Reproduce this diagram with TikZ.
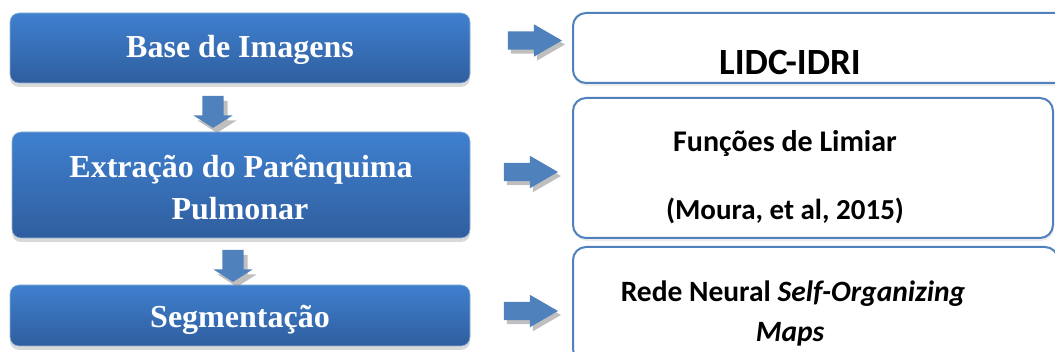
\documentclass[tikz,border=0pt]{standalone}
\usepackage{fontspec}
\newfontfamily\timesf{Liberation Serif}
\newfontfamily\calibf{Carlito}
\usetikzlibrary{shapes.arrows,shadows}
\definecolor{boxtop}{HTML}{3F80CF}
\definecolor{boxbot}{HTML}{2F5E9E}
\definecolor{boxline}{HTML}{4F81BD}
\tikzset{
	leftbox/.style={rectangle, rounded corners=9pt, top color=boxtop, bottom color=boxbot, draw=boxline!60, line width=0.6pt, drop shadow={shadow xshift=0pt, shadow yshift=-4pt, opacity=0.3}},
	rightbox/.style={rectangle, rounded corners=13pt, fill=white, draw=boxline, line width=2pt, drop shadow={shadow xshift=1pt, shadow yshift=-3pt, opacity=0.15}},
	leftlbl/.style={anchor=base, text=white, font=\timesf\bfseries\fontsize{32}{38}\selectfont},
	rightlbl/.style={anchor=base, text=black, font=\calibf\bfseries\fontsize{30}{36}\selectfont},
	rarrow/.style={single arrow, fill=boxline, inner sep=9pt, single arrow head extend=7pt, minimum height=54pt, single arrow tip angle=60, drop shadow={shadow xshift=3pt, shadow yshift=-4pt, opacity=0.5}},
	darrow/.style={single arrow, shape border rotate=270, fill=boxline, inner sep=10.5pt, single arrow head extend=9pt, minimum height=32pt, single arrow tip angle=115, drop shadow={shadow xshift=4pt, shadow yshift=-5pt, opacity=0.5}}
}
\begin{document}
\begin{tikzpicture}[x=1pt, y=-1pt]
	\path[use as bounding box, clip] (0,0) rectangle (1055,352);
	% steps on the left
	\node[leftbox, minimum width=460pt, minimum height=70pt] (base) at (240,48) {};
	\node[leftbox, minimum width=458pt, minimum height=106pt] (extr) at (241,185) {};
	\node[leftbox, minimum width=460pt, minimum height=61pt] (segm) at (240,315.5) {};
	\node[leftlbl] (baset) at (240,58) {Base de Imagens};
	\node[leftlbl] (extrt) at (241,178) {Extração do Parênquima};
	\node[leftlbl] (extrb) at (240,220) {Pulmonar};
	\node[leftlbl] (segmt) at (240,328) {Segmentação};
	% methods on the right
	\node[rightbox, minimum width=507pt, minimum height=70pt] (lidc) at (826.5,48) {};
	\node[rightbox, minimum width=480pt, minimum height=140pt] (limiar) at (813,168) {};
	\node[rightbox, minimum width=485pt, minimum height=115pt] (som) at (815.5,304.5) {};
	\node[rightlbl, font=\calibf\bfseries\fontsize{37}{44}\selectfont] (lidct) at (790,75) {LIDC-IDRI};
	\node[rightlbl] (limiart) at (785,152) {Funções de Limiar};
	\node[rightlbl, font=\calibf\bfseries\fontsize{29}{35}\selectfont] (limiarb) at (785,220) {(Moura, et al, 2015)};
	\node[rightlbl, font=\calibf\bfseries\fontsize{29.5}{35}\selectfont] (somt) at (793,302) {Rede Neural \textit{Self-Organizing}};
	\node[rightlbl, font=\calibf\bfseries\fontsize{29.5}{35}\selectfont] (somb) at (790,342) {\textit{Maps}};
	% block arrows
	\node[darrow] (d1) at (213,108.5) {};
	\node[darrow] (d2) at (233,262.5) {};
	\node[rarrow] (r1) at (527,40.5) {};
	\node[rarrow] (r2) at (523,172) {};
	\node[rarrow] (r3) at (523,311) {};
\end{tikzpicture}
\end{document}
